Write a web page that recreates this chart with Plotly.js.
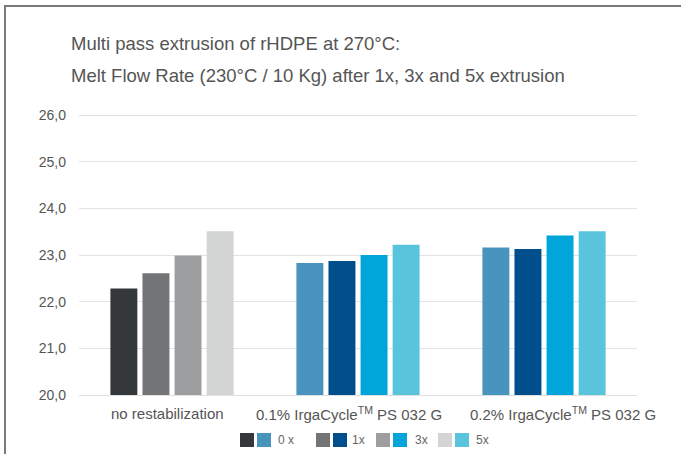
<!DOCTYPE html>
<html>
<head>
<meta charset="utf-8">
<script src="https://cdn.plot.ly/plotly-3.0.1.min.js"></script>
<style>html,body{margin:0;padding:0;background:#fff;}#chart{width:681px;height:454px;}</style>
</head>
<body>
<div id="chart"></div>
<script>
const categories = ["no restabilization", "0.1% IrgaCycle<sup>TM</sup> PS 032 G", "0.2% IrgaCycle<sup>TM</sup> PS 032 G"];
const passes = ["0 x", "1x", "3x", "5x"];
const mfr0x = [22.28, 22.83, 23.16];
const mfr1x = [22.61, 22.87, 23.13];
const mfr3x = [22.99, 23.00, 23.42];
const mfr5x = [23.51, 23.22, 23.51];
const seriesValues = [mfr0x, mfr1x, mfr3x, mfr5x];
const greyColors = ["#34383a", "#737476", "#9d9e9f", "#d3d4d4"];
const blueColors = ["#4894bf", "#004e8c", "#00a6da", "#5ac4dd"];
const yTicks = [20, 21, 22, 23, 24, 25, 26];

const traces = passes.map((p, i) => ({
  type: "bar",
  name: p,
  x: categories,
  y: seriesValues[i],
  marker: {color: [greyColors[i], blueColors[i], blueColors[i]], line: {width: 0}},
  hoverinfo: "y",
  showlegend: false
}));

// plot-area geometry in pixels
const L = 79, R = 44, T = 115, B = 59, W = 681, H = 454;
const pw = W - L - R, ph = H - T - B;
const px = v => (v - L) / pw;
const py = v => (H - B - v) / ph;

const shapes = [];
const annotations = [];
// frame
shapes.push({type: "line", xref: "paper", yref: "paper", x0: px(5), x1: px(5), y0: py(6), y1: py(460), line: {color: "#7a7a7a", width: 2}});
shapes.push({type: "line", xref: "paper", yref: "paper", x0: px(4), x1: px(690), y0: py(6), y1: py(6), line: {color: "#7a7a7a", width: 2}});
// gridlines at the range ends (top and bottom of the plot area), pixel-aligned
[T + 0.5, H - B + 0.5].forEach(v => {
  shapes.push({type: "line", xref: "paper", yref: "paper", x0: 0, x1: 1, y0: py(v), y1: py(v), layer: "above", line: {color: "#e0e0e0", width: 1}});
});

// category labels (offset as in the original artwork)
const labelShift = [-5, -9, 19];
categories.forEach((c, i) => {
  annotations.push({xref: "x", yref: "paper", x: c, y: py(413), xanchor: "center", yanchor: "middle", xshift: labelShift[i], text: c, showarrow: false, font: {size: 15, color: "#555"}});
});

// legend
const legX = [240, 316, 376, 438];
const legTextX = [276, 350, 413, 474];
passes.forEach((p, i) => {
  const x = legX[i];
  shapes.push({type: "rect", xref: "paper", yref: "paper", x0: px(x), x1: px(x + 14), y0: py(447), y1: py(433), fillcolor: greyColors[i], line: {width: 0}});
  shapes.push({type: "rect", xref: "paper", yref: "paper", x0: px(x + 17), x1: px(x + 31), y0: py(447), y1: py(433), fillcolor: blueColors[i], line: {width: 0}});
  annotations.push({xref: "paper", yref: "paper", x: px(legTextX[i]), y: py(440), xanchor: "left", yanchor: "middle", text: p, showarrow: false, font: {size: 12, color: "#666"}});
});

annotations.push({xref: "paper", yref: "paper", x: px(69), y: py(43), xanchor: "left", yanchor: "middle", text: "Multi pass extrusion of rHDPE at 270°C:", showarrow: false, font: {size: 18.5, color: "#555"}});
annotations.push({xref: "paper", yref: "paper", x: px(69), y: py(75), xanchor: "left", yanchor: "middle", text: "Melt Flow Rate (230°C / 10 Kg) after 1x, 3x and 5x extrusion", showarrow: false, font: {size: 18.5, color: "#555"}});

const layout = {
  width: W, height: H,
  margin: {l: L, r: R, t: T, b: B, pad: 0},
  paper_bgcolor: "#fff", plot_bgcolor: "rgba(0,0,0,0)",
  font: {family: "Liberation Sans, Arial, sans-serif", color: "#555", size: 13},
  separators: ",.",
  barmode: "group",
  bargap: 0.31,
  bargroupgap: 0.16,
  showlegend: false,
  xaxis: {range: [-0.5, categories.length - 0.5], autorange: false, showgrid: false, zeroline: false, showline: false, ticks: "", showticklabels: false, fixedrange: true},
  yaxis: {range: [20, 26], autorange: false, tickvals: yTicks, tickformat: ".1f", showgrid: true, gridcolor: "#e3e3e3", gridwidth: 1, zeroline: false, showline: false, ticks: "", tickfont: {size: 14, color: "#555"}, ticklabelstandoff: 12, fixedrange: true},
  shapes: shapes,
  annotations: annotations
};

Plotly.newPlot("chart", traces, layout, {displayModeBar: false, staticPlot: true});
</script>
</body>
</html>
